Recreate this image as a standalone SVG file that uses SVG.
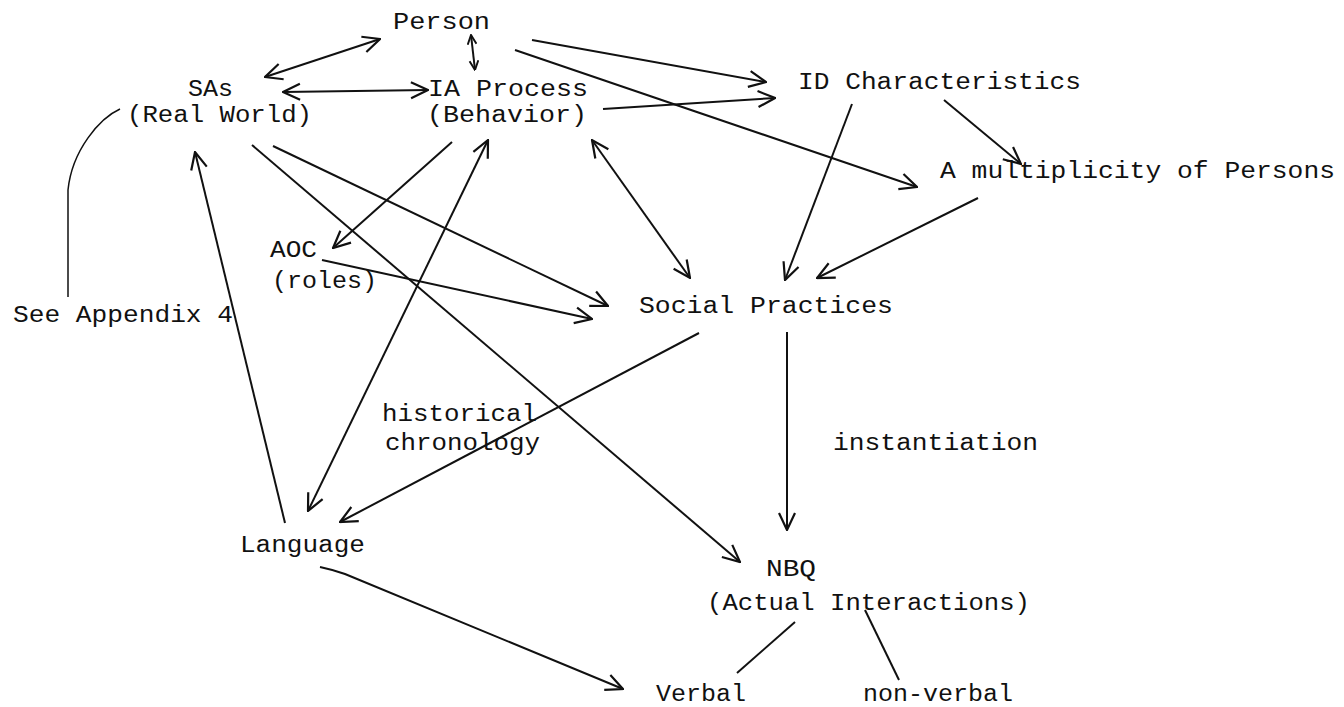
<svg xmlns="http://www.w3.org/2000/svg" width="1344" height="707" viewBox="0 0 1344 707">
<style>
text{font-family:"Liberation Mono","DejaVu Sans Mono",monospace;font-size:23px;fill:#111}
.c line,.c path{stroke:#111;stroke-width:2;fill:none}
.c .thin{stroke-width:1.5}
</style>
<defs>
<marker id="ah" viewBox="0 0 20 20" refX="19" refY="10" markerWidth="20" markerHeight="20" markerUnits="userSpaceOnUse" orient="auto-start-reverse">
<path d="M2,2 L19,10 L2,18" fill="none" stroke="#111" stroke-width="2.2"/>
</marker>
<marker id="ahs" viewBox="0 0 20 20" refX="19" refY="10" markerWidth="11" markerHeight="11" markerUnits="userSpaceOnUse" orient="auto-start-reverse">
<path d="M2,2 L19,10 L2,18" fill="none" stroke="#111" stroke-width="3.5"/>
</marker>
</defs>
<rect width="1344" height="707" fill="#fff"/>
<g id="person"><text x="393" y="29" textLength="97" lengthAdjust="spacingAndGlyphs">Person</text></g>
<g id="sas"><text x="188" y="96" textLength="45" lengthAdjust="spacingAndGlyphs">SAs</text><text x="127" y="122" textLength="185" lengthAdjust="spacingAndGlyphs">(Real World)</text></g>
<g id="ia"><text x="428" y="96" textLength="160" lengthAdjust="spacingAndGlyphs">IA Process</text><text x="427" y="122" textLength="160" lengthAdjust="spacingAndGlyphs">(Behavior)</text></g>
<g id="idc"><text x="798" y="89" textLength="283" lengthAdjust="spacingAndGlyphs">ID Characteristics</text></g>
<g id="multi"><text x="940" y="178" textLength="395" lengthAdjust="spacingAndGlyphs">A multiplicity of Persons</text></g>
<g id="aoc"><text x="270" y="257" textLength="47" lengthAdjust="spacingAndGlyphs">AOC</text><text x="272" y="288" textLength="105" lengthAdjust="spacingAndGlyphs">(roles)</text></g>
<g id="appendix"><text x="13" y="322" textLength="220" lengthAdjust="spacingAndGlyphs">See Appendix 4</text></g>
<g id="sp"><text x="639" y="313" textLength="254" lengthAdjust="spacingAndGlyphs">Social Practices</text></g>
<g id="hist"><text x="382" y="421" textLength="155" lengthAdjust="spacingAndGlyphs">historical</text><text x="385" y="450" textLength="155" lengthAdjust="spacingAndGlyphs">chronology</text></g>
<g id="inst"><text x="833" y="450" textLength="205" lengthAdjust="spacingAndGlyphs">instantiation</text></g>
<g id="language"><text x="240" y="552" textLength="125" lengthAdjust="spacingAndGlyphs">Language</text></g>
<g id="nbq"><text x="766" y="576" textLength="50" lengthAdjust="spacingAndGlyphs">NBQ</text><text x="707" y="610" textLength="323" lengthAdjust="spacingAndGlyphs">(Actual Interactions)</text></g>
<g id="verbal"><text x="656" y="701" textLength="90" lengthAdjust="spacingAndGlyphs">Verbal</text></g>
<g id="nonverbal"><text x="863" y="701" textLength="150" lengthAdjust="spacingAndGlyphs">non-verbal</text></g>
<g id="connectors" class="c">
<line x1="265" y1="77" x2="380" y2="39" marker-start="url(#ah)" marker-end="url(#ah)"/>
<line x1="471" y1="35" x2="475" y2="70" marker-start="url(#ahs)" marker-end="url(#ahs)"/>
<line x1="283" y1="92" x2="428" y2="90" marker-start="url(#ah)" marker-end="url(#ah)"/>
<line x1="532" y1="40" x2="766" y2="82" marker-end="url(#ah)"/>
<line x1="515" y1="50" x2="917" y2="187" marker-end="url(#ah)"/>
<line x1="603" y1="109" x2="775" y2="98" marker-end="url(#ah)"/>
<line x1="944" y1="100" x2="1021" y2="164" marker-end="url(#ah)"/>
<line x1="852" y1="104" x2="785" y2="280" marker-end="url(#ah)"/>
<line x1="978" y1="198" x2="817" y2="278" marker-end="url(#ah)"/>
<line x1="592" y1="140" x2="690" y2="278" marker-start="url(#ah)" marker-end="url(#ah)"/>
<line x1="452" y1="142" x2="333" y2="248" marker-end="url(#ah)"/>
<line x1="273" y1="146" x2="608" y2="306" marker-end="url(#ah)"/>
<line x1="322" y1="260" x2="592" y2="319" marker-end="url(#ah)"/>
<line x1="252" y1="145" x2="740" y2="562" marker-end="url(#ah)"/>
<line x1="285" y1="523" x2="195" y2="152" marker-end="url(#ah)"/>
<line x1="488" y1="140" x2="308" y2="511" marker-start="url(#ah)" marker-end="url(#ah)"/>
<line x1="699" y1="333" x2="340" y2="522" marker-end="url(#ah)"/>
<line x1="787" y1="332" x2="787" y2="530" marker-end="url(#ah)"/>
<path d="M320,567 Q334,570 345,574 L623,689" marker-end="url(#ah)"/>
<line x1="795" y1="622" x2="737" y2="673"/>
<line x1="865" y1="610" x2="899" y2="680"/>
<path class="thin" d="M120,109 C100,118 72,150 68,190 L68,297"/>
</g>
</svg>
